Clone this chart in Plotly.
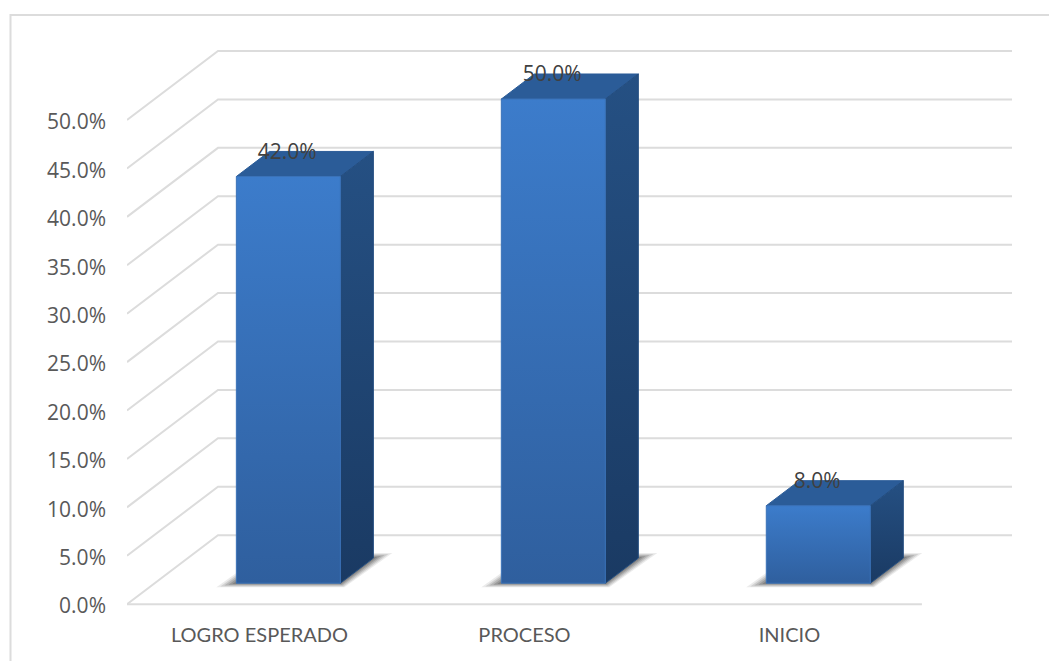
import plotly.graph_objects as go

categories = ["LOGRO ESPERADO", "PROCESO", "INICIO"]
values = [42.0, 50.0, 8.0]
tick_values = [0, 5, 10, 15, 20, 25, 30, 35, 40, 45, 50]
tick_labels = ["0.0%", "5.0%", "10.0%", "15.0%", "20.0%", "25.0%", "30.0%", "35.0%", "40.0%", "45.0%", "50.0%"]

# oblique projection, in axis units
DX = 91 / 265
DY = 69 / 9.68
BAR_HALF = 52 / 265
BAR_SHIFT = 1.2 / 265
D_FRONT, D_BACK = 0.304, 0.667
PXX, PXY = 1 / 265, 1 / 9.68
LABEL_NUDGE = 0.2
Y_MIN = -0.5
MARGIN_B = 57 + Y_MIN * 9.68
PLOT_H = 661 - 40 - MARGIN_B


def proj(c, v, d):
    return c + d * DX, v + d * DY


def paper_x(px):
    return (px - 127) / 885


def paper_y(px):
    return (661 - MARGIN_B - px) / PLOT_H


def poly(pts, **kw):
    return go.Scatter(x=[p[0] for p in pts] + [pts[0][0]], y=[p[1] for p in pts] + [pts[0][1]],
                      mode="lines", fill="toself", hoverinfo="skip", showlegend=False, **kw)


fig = go.Figure()
GRID = "#dcdcdc"
GW = 2
for t in tick_values:
    a, b = proj(-0.5, t, 0), proj(-0.5, t, 1)
    c = proj(2.5, t, 1)
    fig.add_trace(go.Scatter(x=[a[0], b[0], c[0]], y=[a[1], b[1], c[1]], mode="lines",
                             line=dict(color=GRID, width=GW), hoverinfo="skip", showlegend=False))
a, b = proj(-0.5, 0, 0), proj(2.5, 0, 0)
fig.add_trace(go.Scatter(x=[a[0], b[0]], y=[a[1], b[1]], mode="lines",
                         line=dict(color=GRID, width=GW), hoverinfo="skip", showlegend=False))

for i, v in enumerate(values):
    l, r = i + BAR_SHIFT - BAR_HALF, i + BAR_SHIFT + BAR_HALF
    # soft floor shadow
    for g, alpha in [(1.0, 0.10), (0.8, 0.14), (0.6, 0.18), (0.4, 0.22), (0.2, 0.26)]:
        fl = proj(l, 0, D_FRONT)
        fr = proj(r, 0, D_FRONT)
        br = proj(r, 0, D_BACK)
        bl = proj(l, 0, D_BACK)
        pts = [(fl[0] - 20 * g * PXX, fl[1] - 4 * g * PXY),
               (fr[0] + 4 * g * PXX, fr[1] - 4 * g * PXY),
               (br[0] + 19 * g * PXX, br[1] + 5 * g * PXY),
               (bl[0] - 5 * g * PXX, bl[1] + 5 * g * PXY)]
        fig.add_trace(poly(pts, line=dict(width=0), fillcolor=f"rgba(60,60,60,{alpha})"))
    # top
    fig.add_trace(poly([proj(l, v, D_FRONT), proj(r, v, D_FRONT), proj(r, v, D_BACK), proj(l, v, D_BACK)],
                       line=dict(color="#2b5c98", width=1), fillcolor="#2b5c98"))
    # side
    fig.add_trace(poly([proj(r, 0, D_FRONT), proj(r, 0, D_BACK), proj(r, v, D_BACK), proj(r, v, D_FRONT)],
                       line=dict(color="#234d80", width=1),
                       fillgradient=dict(type="vertical",
                                         colorscale=[[0, "#1a3a63"], [1, "#255083"]])))
    # front
    fig.add_trace(poly([proj(l, 0, D_FRONT), proj(r, 0, D_FRONT), proj(r, v, D_FRONT), proj(l, v, D_FRONT)],
                       line=dict(color="#3a72b8", width=1),
                       fillgradient=dict(type="vertical",
                                         colorscale=[[0, "#2f5f9e"], [1, "#3c7ccb"]])))

lx = [proj(i, v, D_FRONT)[0] for i, v in enumerate(values)]
ly = [proj(i, v, D_BACK)[1] - 0.2 for i, v in enumerate(values)]
fig.add_trace(go.Scatter(x=lx, y=ly, mode="text", text=[f"{v:.1f}%" for v in values],
                         textposition="middle center", hoverinfo="skip", showlegend=False,
                         textfont=dict(family="Open Sans", size=21, color="#404040")))

# chart-area border: only the top and left edges show in the reference
fig.add_shape(type="path", xref="paper", yref="paper",
              path=f"M {paper_x(10.5)} {paper_y(661)} L {paper_x(10.5)} {paper_y(15)} L {paper_x(1049)} {paper_y(15)}",
              line=dict(color="#dcdcdc", width=2))

fig.update_layout(
    width=1049, height=661, margin=dict(l=127, r=37, t=40, b=MARGIN_B, autoexpand=False),
    paper_bgcolor="white", plot_bgcolor="rgba(0,0,0,0)", showlegend=False,
    xaxis=dict(range=[-0.5, 2.84], tickmode="array", tickvals=[0, 1, 2], ticktext=categories,
               showgrid=False, zeroline=False, showline=False, ticks="", ticklabelstandoff=12,
               tickfont=dict(family="Lato", size=20, color="#595959")),
    yaxis=dict(range=[Y_MIN, 564 / 9.68], tickmode="array",
               tickvals=[t - LABEL_NUDGE for t in tick_values], ticktext=tick_labels,
               showgrid=False, zeroline=False, showline=False, ticks="", ticklabelstandoff=20,
               tickfont=dict(family="Open Sans", size=21, color="#595959")),
)
fig.write_html("out.html", config={"displayModeBar": False},
               post_script="document.body.style.margin='0';")
